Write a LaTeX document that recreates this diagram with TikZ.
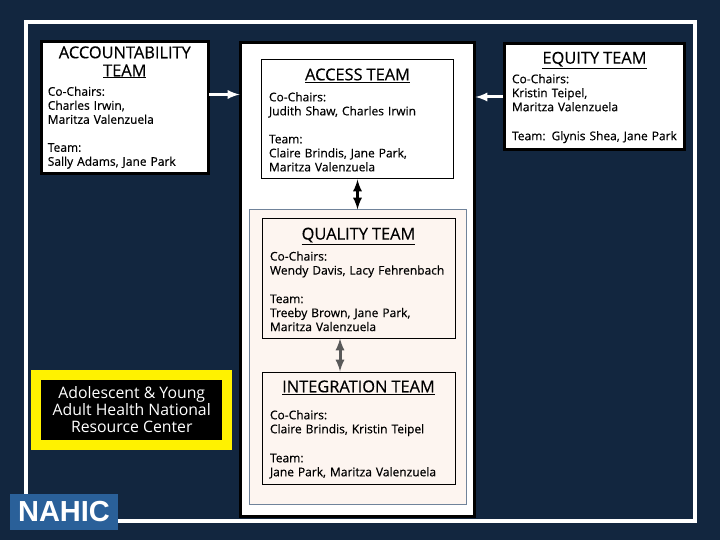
\documentclass[tikz,border=0pt]{standalone}
\usepackage{fontspec}
\usepackage{xcolor}
\setmainfont{Open Sans}
\newfontfamily\teamfont{Open Sans}[RawFeature={embolden=0.4}]
\newfontfamily\logofont{Liberation Sans}
\definecolor{navy}{HTML}{12263F}
\definecolor{cream}{HTML}{FDF5F0}
\definecolor{steel}{HTML}{70839A}
\definecolor{logoblue}{HTML}{2A6099}

\newcommand{\teamhead}[2][0pt]{{\fontsize{16.4}{18}\selectfont\rule{0pt}{\dimexpr 11.8pt+#1\relax}#2\par}}

\begin{document}
\begin{tikzpicture}[x=1pt, y=-1pt,
    block/.style={rectangle, draw=black, fill=white, line width=1pt, inner sep=0pt, text width=#1, align=left, font=\teamfont\fontsize{12}{14}\selectfont},
    block/.default=177pt,
    sideblock/.style={block=#1, line width=3pt},
    line/.style={draw, -latex, line width=3pt},
    both/.style={draw, latex-latex, line width=3pt}]

    \useasboundingbox [fill=navy] (0,0) rectangle (720,540);

    \node [draw=white, line width=4pt, minimum width=669pt, minimum height=499pt, inner sep=0pt] (frame) at (360.5,271.5) {};

    \node [draw=black, fill=white, line width=3pt, minimum width=234pt, minimum height=474pt, inner sep=0pt] (panel) at (357.5,279.5) {};
    \node [draw=steel, fill=cream, line width=1pt, minimum width=217pt, minimum height=294pt, inner sep=0pt] (group) at (357.5,357) {};

    \node [sideblock=154pt, minimum width=167pt, minimum height=132pt] (accountability) at (124.8,107.5) {%
        {\centering\teamhead{ACCOUNTABILITY\\[0pt]\underline{TEAM}}}
        \vspace{5.5pt}
        Co-Chairs:\\Charles Irwin,\\Maritza Valenzuela\\[14pt]Team:\\Sally Adams, Jane Park};
    \node [sideblock=165pt, minimum width=180pt, minimum height=106pt] (equity) at (594.5,96.5) {%
        {\centering\teamhead[2pt]{\underline{EQUITY TEAM}}}
        \vspace{5.5pt}
        Co-Chairs:\\Kristin Teipel,\\Maritza Valenzuela\\[15pt]Team: Glynis Shea, Jane Park};

    \node [block, minimum width=192pt, minimum height=119pt] (access) at (357.5,119.5) {%
        {\centering\teamhead[1pt]{\underline{ACCESS TEAM}}}
        \vspace{7pt}
        Co-Chairs:\\Judith Shaw, Charles Irwin\\[14pt]Team:\\Claire Brindis, Jane Park,\\Maritza Valenzuela};
    \node [block, fill=cream, below of=access, node distance=159pt, xshift=1pt, minimum width=193pt, minimum height=119pt] (quality) {%
        {\centering\teamhead[2pt]{\underline{QUALITY TEAM}}}
        \vspace{7pt}
        Co-Chairs:\\Wendy Davis, Lacy Fehrenbach\\[14.5pt]Team:\\Treeby Brown, Jane Park,\\Maritza Valenzuela};
    \node [block, fill=cream, below of=quality, node distance=149.5pt, minimum width=193pt, minimum height=112pt] (integration) {%
        {\centering\teamhead[3pt]{\underline{INTEGRATION TEAM}}}
        \vspace{13pt}
        Co-Chairs:\\Claire Brindis, Kristin Teipel\\[15pt]Team:\\Jane Park, Maritza Valenzuela};

    \node [draw=yellow, fill=black, line width=10pt, text=white, minimum width=191pt, minimum height=70pt, inner sep=0pt, align=center, font=\fontsize{15.8}{17}\selectfont] (center) at (131.75,410) {Adolescent \& Young\\Adult Health National\\Resource Center};

    \node [fill=logoblue, text=white, minimum width=108pt, minimum height=36pt, inner sep=0pt, font=\logofont\bfseries\fontsize{29}{29}\selectfont] (nahic) at (64,512) {NAHIC};

    \coordinate (accessleft) at (239.5,94.5);
    \coordinate (accessright) at (475.5,97);
    \coordinate (accountabilityout) at (209,94.5);
    \coordinate (equityout) at (503,97);

    \path [line, draw=white] (accountabilityout) -- (accessleft);
    \path [line, draw=white] (equityout) -- (accessright);
    \path [both, draw=black] (access.south) -- (group.north);
    \path [both, draw=black!65] ([xshift=-18.5pt]quality.south) -- ([xshift=-18.5pt]integration.north);
\end{tikzpicture}
\end{document}
